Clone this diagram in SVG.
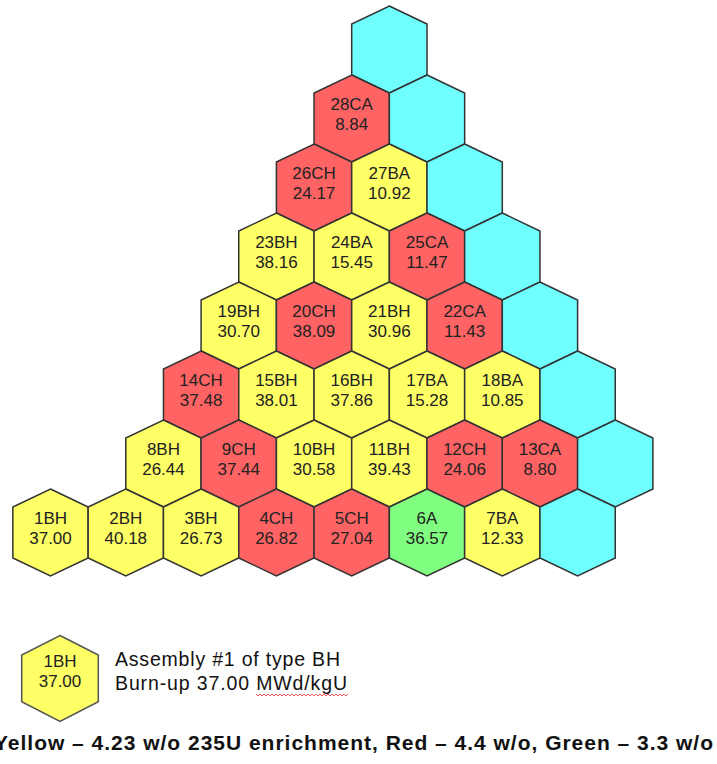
<svg xmlns="http://www.w3.org/2000/svg" xmlns:xlink="http://www.w3.org/1999/xlink" width="717" height="764" viewBox="0 0 717 764">
<defs>
<polygon id="hex" points="0,-43.5 37.65,-25.5 37.65,25.5 0,43.5 -37.65,25.5 -37.65,-25.5"/>
<style>
.y{fill:#FFFF66}
.r{fill:#FF6363}
.c{fill:#70FFFF}
.g{fill:#80FF80}
use{stroke:#333;stroke-width:1.5;stroke-linejoin:miter}
.t{font-family:"Liberation Sans",Arial,sans-serif;font-size:17px;fill:#222;text-anchor:middle}
.lg{font-family:"Liberation Sans",Arial,sans-serif;font-size:19.5px;fill:#111}
.bt{font-family:"Liberation Sans",Arial,sans-serif;font-size:21px;font-weight:bold;fill:#111}
</style>
</defs>
<rect width="717" height="764" fill="#fff"/>
<g id="connectors"/>
<!-- Row 7 -->
<g id="cy7a"><use xlink:href="#hex" x="389.35" y="49.5" class="c"/></g>
<!-- Row 6 -->
<g id="n28CA"><use xlink:href="#hex" x="351.7" y="118.5" class="r"/><text class="t" x="351.7" y="109.5">28CA</text><text class="t" x="351.7" y="130">8.84</text></g>
<g id="cy6a"><use xlink:href="#hex" x="427" y="118.5" class="c"/></g>
<!-- Row 5 -->
<g id="n26CH"><use xlink:href="#hex" x="314.05" y="187.5" class="r"/><text class="t" x="314.05" y="178.5">26CH</text><text class="t" x="314.05" y="199">24.17</text></g>
<g id="n27BA"><use xlink:href="#hex" x="389.35" y="187.5" class="y"/><text class="t" x="389.35" y="178.5">27BA</text><text class="t" x="389.35" y="199">10.92</text></g>
<g id="cy5a"><use xlink:href="#hex" x="464.65" y="187.5" class="c"/></g>
<!-- Row 4 -->
<g id="n23BH"><use xlink:href="#hex" x="276.4" y="256.5" class="y"/><text class="t" x="276.4" y="247.5">23BH</text><text class="t" x="276.4" y="268">38.16</text></g>
<g id="n24BA"><use xlink:href="#hex" x="351.7" y="256.5" class="y"/><text class="t" x="351.7" y="247.5">24BA</text><text class="t" x="351.7" y="268">15.45</text></g>
<g id="n25CA"><use xlink:href="#hex" x="427" y="256.5" class="r"/><text class="t" x="427" y="247.5">25CA</text><text class="t" x="427" y="268">11.47</text></g>
<g id="cy4a"><use xlink:href="#hex" x="502.3" y="256.5" class="c"/></g>
<!-- Row 3 -->
<g id="n19BH"><use xlink:href="#hex" x="238.75" y="325.5" class="y"/><text class="t" x="238.75" y="316.5">19BH</text><text class="t" x="238.75" y="337">30.70</text></g>
<g id="n20CH"><use xlink:href="#hex" x="314.05" y="325.5" class="r"/><text class="t" x="314.05" y="316.5">20CH</text><text class="t" x="314.05" y="337">38.09</text></g>
<g id="n21BH"><use xlink:href="#hex" x="389.35" y="325.5" class="y"/><text class="t" x="389.35" y="316.5">21BH</text><text class="t" x="389.35" y="337">30.96</text></g>
<g id="n22CA"><use xlink:href="#hex" x="464.65" y="325.5" class="r"/><text class="t" x="464.65" y="316.5">22CA</text><text class="t" x="464.65" y="337">11.43</text></g>
<g id="cy3a"><use xlink:href="#hex" x="539.95" y="325.5" class="c"/></g>
<!-- Row 2 -->
<g id="n14CH"><use xlink:href="#hex" x="201.1" y="394.5" class="r"/><text class="t" x="201.1" y="385.5">14CH</text><text class="t" x="201.1" y="406">37.48</text></g>
<g id="n15BH"><use xlink:href="#hex" x="276.4" y="394.5" class="y"/><text class="t" x="276.4" y="385.5">15BH</text><text class="t" x="276.4" y="406">38.01</text></g>
<g id="n16BH"><use xlink:href="#hex" x="351.7" y="394.5" class="y"/><text class="t" x="351.7" y="385.5">16BH</text><text class="t" x="351.7" y="406">37.86</text></g>
<g id="n17BA"><use xlink:href="#hex" x="427" y="394.5" class="y"/><text class="t" x="427" y="385.5">17BA</text><text class="t" x="427" y="406">15.28</text></g>
<g id="n18BA"><use xlink:href="#hex" x="502.3" y="394.5" class="y"/><text class="t" x="502.3" y="385.5">18BA</text><text class="t" x="502.3" y="406">10.85</text></g>
<g id="cy2a"><use xlink:href="#hex" x="577.6" y="394.5" class="c"/></g>
<!-- Row 1 -->
<g id="n8BH"><use xlink:href="#hex" x="163.45" y="463.5" class="y"/><text class="t" x="163.45" y="454.5">8BH</text><text class="t" x="163.45" y="475">26.44</text></g>
<g id="n9CH"><use xlink:href="#hex" x="238.75" y="463.5" class="r"/><text class="t" x="238.75" y="454.5">9CH</text><text class="t" x="238.75" y="475">37.44</text></g>
<g id="n10BH"><use xlink:href="#hex" x="314.05" y="463.5" class="y"/><text class="t" x="314.05" y="454.5">10BH</text><text class="t" x="314.05" y="475">30.58</text></g>
<g id="n11BH"><use xlink:href="#hex" x="389.35" y="463.5" class="y"/><text class="t" x="389.35" y="454.5">11BH</text><text class="t" x="389.35" y="475">39.43</text></g>
<g id="n12CH"><use xlink:href="#hex" x="464.65" y="463.5" class="r"/><text class="t" x="464.65" y="454.5">12CH</text><text class="t" x="464.65" y="475">24.06</text></g>
<g id="n13CA"><use xlink:href="#hex" x="539.95" y="463.5" class="r"/><text class="t" x="539.95" y="454.5">13CA</text><text class="t" x="539.95" y="475">8.80</text></g>
<g id="cy1a"><use xlink:href="#hex" x="615.25" y="463.5" class="c"/></g>
<!-- Row 0 -->
<g id="n1BH"><use xlink:href="#hex" x="50.5" y="532.5" class="y"/><text class="t" x="50.5" y="523.5">1BH</text><text class="t" x="50.5" y="544">37.00</text></g>
<g id="n2BH"><use xlink:href="#hex" x="125.8" y="532.5" class="y"/><text class="t" x="125.8" y="523.5">2BH</text><text class="t" x="125.8" y="544">40.18</text></g>
<g id="n3BH"><use xlink:href="#hex" x="201.1" y="532.5" class="y"/><text class="t" x="201.1" y="523.5">3BH</text><text class="t" x="201.1" y="544">26.73</text></g>
<g id="n4CH"><use xlink:href="#hex" x="276.4" y="532.5" class="r"/><text class="t" x="276.4" y="523.5">4CH</text><text class="t" x="276.4" y="544">26.82</text></g>
<g id="n5CH"><use xlink:href="#hex" x="351.7" y="532.5" class="r"/><text class="t" x="351.7" y="523.5">5CH</text><text class="t" x="351.7" y="544">27.04</text></g>
<g id="n6A"><use xlink:href="#hex" x="427" y="532.5" class="g"/><text class="t" x="427" y="523.5">6A</text><text class="t" x="427" y="544">36.57</text></g>
<g id="n7BA"><use xlink:href="#hex" x="502.3" y="532.5" class="y"/><text class="t" x="502.3" y="523.5">7BA</text><text class="t" x="502.3" y="544">12.33</text></g>
<g id="cy0a"><use xlink:href="#hex" x="577.6" y="532.5" class="c"/></g>
<!-- Legend -->
<g id="legend">
<polygon points="60,635.5 98.3,655 98.3,701.7 60,721.5 21.7,701.7 21.7,655" fill="#FFFF66" stroke="#555" stroke-width="1.5"/>
<text class="t" x="60" y="666.7">1BH</text>
<text class="t" x="60" y="686.7">37.00</text>
<text class="lg" x="115" y="666" textLength="225" lengthAdjust="spacing">Assembly #1 of type BH</text>
<text class="lg" x="115" y="690" textLength="232" lengthAdjust="spacing">Burn-up 37.00 MWd/kgU</text>
<polyline points="256,694 258,696 260,694 262,696 264,694 266,696 268,694 270,696 272,694 274,696 276,694 278,696 280,694 282,696 284,694 286,696 288,694 290,696 292,694 294,696 296,694 298,696 300,694 302,696 304,694 306,696 308,694 310,696 312,694 314,696 316,694 318,696 320,694 322,696 324,694 326,696 328,694 330,696 332,694 334,696 336,694 338,696 340,694 342,696 344,694 346,696 348,694" fill="none" stroke="#e03030" stroke-width="0.8"/>
</g>
<text class="bt" x="-6" y="750" textLength="719" lengthAdjust="spacing">Yellow – 4.23 w/o 235U enrichment, Red – 4.4 w/o, Green – 3.3 w/o</text>
</svg>
